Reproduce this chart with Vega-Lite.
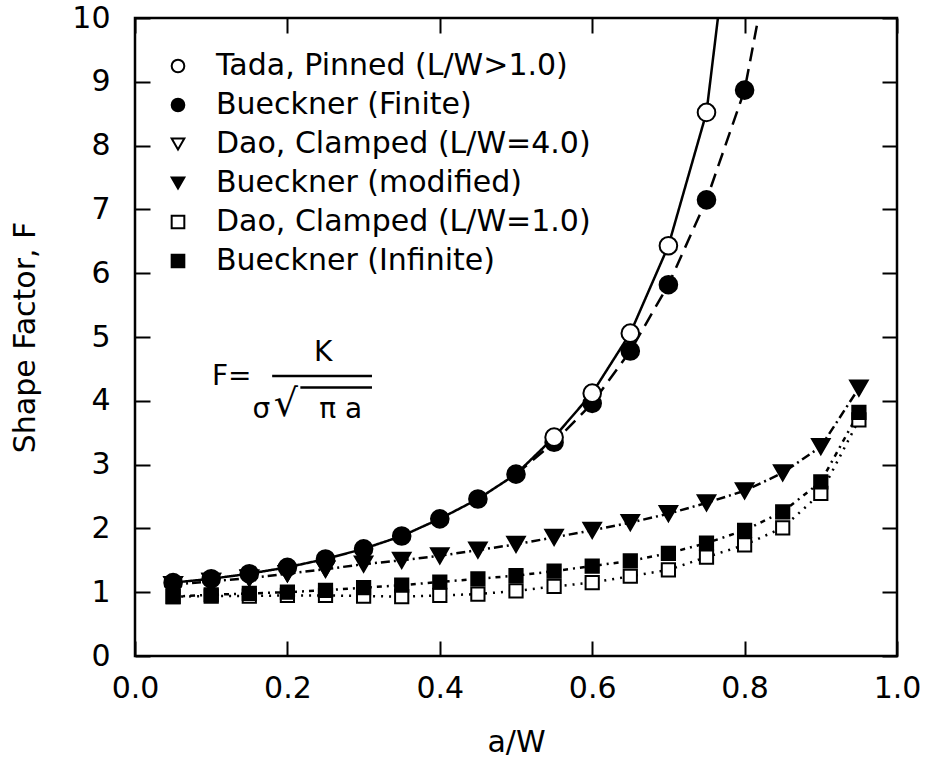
{
  "$schema": "https://vega.github.io/schema/vega-lite/v6.json",
  "width": 762,
  "height": 638,
  "autosize": {"type": "none"},
  "padding": {"left": 135, "top": 18, "right": 28, "bottom": 111},
  "background": "white",
  "config": {
    "view": {"stroke": "black", "strokeWidth": 2.5},
    "font": "DejaVu Sans",
    "axis": {
      "domain": false, "grid": false, "ticks": true, "tickColor": "black", "tickWidth": 2,
      "tickSize": -15, "labelFlush": false, "labelColor": "black", "labelFont": "DejaVu Sans", "labelFontSize": 30,
      "titleFont": "DejaVu Sans", "titleFontSize": 30, "titleFontWeight": "normal", "titleColor": "black"
    },
    "legend": {
      "orient": "none", "legendX": 28, "legendY": 33, "padding": 0,
      "labelFont": "DejaVu Sans", "labelFontSize": 30, "labelColor": "black", "labelLimit": 700,
      "symbolStrokeWidth": 2, "symbolSize": 160,
      "rowPadding": 9, "labelOffset": 23
    }
  },
  "datasets": {
    "squares": [
      {"series": "Dao, Clamped (L/W=1.0)", "x": 0.05, "y": 0.93},
      {"series": "Dao, Clamped (L/W=1.0)", "x": 0.10, "y": 0.94},
      {"series": "Dao, Clamped (L/W=1.0)", "x": 0.15, "y": 0.94},
      {"series": "Dao, Clamped (L/W=1.0)", "x": 0.20, "y": 0.95},
      {"series": "Dao, Clamped (L/W=1.0)", "x": 0.25, "y": 0.95},
      {"series": "Dao, Clamped (L/W=1.0)", "x": 0.30, "y": 0.94},
      {"series": "Dao, Clamped (L/W=1.0)", "x": 0.35, "y": 0.93},
      {"series": "Dao, Clamped (L/W=1.0)", "x": 0.40, "y": 0.95},
      {"series": "Dao, Clamped (L/W=1.0)", "x": 0.45, "y": 0.97},
      {"series": "Dao, Clamped (L/W=1.0)", "x": 0.50, "y": 1.02},
      {"series": "Dao, Clamped (L/W=1.0)", "x": 0.55, "y": 1.09},
      {"series": "Dao, Clamped (L/W=1.0)", "x": 0.60, "y": 1.15},
      {"series": "Dao, Clamped (L/W=1.0)", "x": 0.65, "y": 1.25},
      {"series": "Dao, Clamped (L/W=1.0)", "x": 0.70, "y": 1.35},
      {"series": "Dao, Clamped (L/W=1.0)", "x": 0.75, "y": 1.55},
      {"series": "Dao, Clamped (L/W=1.0)", "x": 0.80, "y": 1.74},
      {"series": "Dao, Clamped (L/W=1.0)", "x": 0.85, "y": 2.01},
      {"series": "Dao, Clamped (L/W=1.0)", "x": 0.90, "y": 2.55},
      {"series": "Dao, Clamped (L/W=1.0)", "x": 0.95, "y": 3.70},
      {"series": "Bueckner (Infinite)", "x": 0.05, "y": 0.93},
      {"series": "Bueckner (Infinite)", "x": 0.10, "y": 0.96},
      {"series": "Bueckner (Infinite)", "x": 0.15, "y": 0.98},
      {"series": "Bueckner (Infinite)", "x": 0.20, "y": 1.00},
      {"series": "Bueckner (Infinite)", "x": 0.25, "y": 1.03},
      {"series": "Bueckner (Infinite)", "x": 0.30, "y": 1.07},
      {"series": "Bueckner (Infinite)", "x": 0.35, "y": 1.11},
      {"series": "Bueckner (Infinite)", "x": 0.40, "y": 1.16},
      {"series": "Bueckner (Infinite)", "x": 0.45, "y": 1.21},
      {"series": "Bueckner (Infinite)", "x": 0.50, "y": 1.26},
      {"series": "Bueckner (Infinite)", "x": 0.55, "y": 1.33},
      {"series": "Bueckner (Infinite)", "x": 0.60, "y": 1.41},
      {"series": "Bueckner (Infinite)", "x": 0.65, "y": 1.49},
      {"series": "Bueckner (Infinite)", "x": 0.70, "y": 1.61},
      {"series": "Bueckner (Infinite)", "x": 0.75, "y": 1.77},
      {"series": "Bueckner (Infinite)", "x": 0.80, "y": 1.97},
      {"series": "Bueckner (Infinite)", "x": 0.85, "y": 2.26},
      {"series": "Bueckner (Infinite)", "x": 0.90, "y": 2.73},
      {"series": "Bueckner (Infinite)", "x": 0.95, "y": 3.82}
    ],
    "pts": [
      {"series": "Dao, Clamped (L/W=4.0)", "x": 0.05, "y": 1.12},
      {"series": "Dao, Clamped (L/W=4.0)", "x": 0.10, "y": 1.17},
      {"series": "Dao, Clamped (L/W=4.0)", "x": 0.15, "y": 1.22},
      {"series": "Dao, Clamped (L/W=4.0)", "x": 0.20, "y": 1.29},
      {"series": "Dao, Clamped (L/W=4.0)", "x": 0.25, "y": 1.36},
      {"series": "Bueckner (modified)", "x": 0.05, "y": 1.12},
      {"series": "Bueckner (modified)", "x": 0.10, "y": 1.17},
      {"series": "Bueckner (modified)", "x": 0.15, "y": 1.22},
      {"series": "Bueckner (modified)", "x": 0.20, "y": 1.29},
      {"series": "Bueckner (modified)", "x": 0.25, "y": 1.36},
      {"series": "Bueckner (modified)", "x": 0.30, "y": 1.44},
      {"series": "Bueckner (modified)", "x": 0.35, "y": 1.50},
      {"series": "Bueckner (modified)", "x": 0.40, "y": 1.57},
      {"series": "Bueckner (modified)", "x": 0.45, "y": 1.66},
      {"series": "Bueckner (modified)", "x": 0.50, "y": 1.75},
      {"series": "Bueckner (modified)", "x": 0.55, "y": 1.86},
      {"series": "Bueckner (modified)", "x": 0.60, "y": 1.97},
      {"series": "Bueckner (modified)", "x": 0.65, "y": 2.09},
      {"series": "Bueckner (modified)", "x": 0.70, "y": 2.23},
      {"series": "Bueckner (modified)", "x": 0.75, "y": 2.40},
      {"series": "Bueckner (modified)", "x": 0.80, "y": 2.59},
      {"series": "Bueckner (modified)", "x": 0.85, "y": 2.87},
      {"series": "Bueckner (modified)", "x": 0.90, "y": 3.28},
      {"series": "Bueckner (modified)", "x": 0.95, "y": 4.20},
      {"series": "Bueckner (Finite)", "x": 0.05, "y": 1.15},
      {"series": "Bueckner (Finite)", "x": 0.10, "y": 1.21},
      {"series": "Bueckner (Finite)", "x": 0.15, "y": 1.29},
      {"series": "Bueckner (Finite)", "x": 0.20, "y": 1.39},
      {"series": "Bueckner (Finite)", "x": 0.25, "y": 1.52},
      {"series": "Bueckner (Finite)", "x": 0.30, "y": 1.68},
      {"series": "Bueckner (Finite)", "x": 0.35, "y": 1.88},
      {"series": "Bueckner (Finite)", "x": 0.40, "y": 2.15},
      {"series": "Bueckner (Finite)", "x": 0.45, "y": 2.46},
      {"series": "Bueckner (Finite)", "x": 0.50, "y": 2.85},
      {"series": "Bueckner (Finite)", "x": 0.55, "y": 3.35},
      {"series": "Bueckner (Finite)", "x": 0.60, "y": 3.96},
      {"series": "Bueckner (Finite)", "x": 0.65, "y": 4.78},
      {"series": "Bueckner (Finite)", "x": 0.70, "y": 5.82},
      {"series": "Bueckner (Finite)", "x": 0.75, "y": 7.15},
      {"series": "Bueckner (Finite)", "x": 0.80, "y": 8.87},
      {"series": "Tada, Pinned (L/W>1.0)", "x": 0.55, "y": 3.43},
      {"series": "Tada, Pinned (L/W>1.0)", "x": 0.60, "y": 4.12},
      {"series": "Tada, Pinned (L/W>1.0)", "x": 0.65, "y": 5.06},
      {"series": "Tada, Pinned (L/W>1.0)", "x": 0.70, "y": 6.43},
      {"series": "Tada, Pinned (L/W>1.0)", "x": 0.75, "y": 8.52}
    ],
    "curves": [
      {"curve": "tada", "x": 0.05, "y": 1.15},
      {"curve": "tada", "x": 0.10, "y": 1.21},
      {"curve": "tada", "x": 0.15, "y": 1.29},
      {"curve": "tada", "x": 0.20, "y": 1.39},
      {"curve": "tada", "x": 0.25, "y": 1.52},
      {"curve": "tada", "x": 0.30, "y": 1.68},
      {"curve": "tada", "x": 0.35, "y": 1.88},
      {"curve": "tada", "x": 0.40, "y": 2.15},
      {"curve": "tada", "x": 0.45, "y": 2.46},
      {"curve": "tada", "x": 0.50, "y": 2.85},
      {"curve": "tada", "x": 0.55, "y": 3.43},
      {"curve": "tada", "x": 0.60, "y": 4.12},
      {"curve": "tada", "x": 0.65, "y": 5.06},
      {"curve": "tada", "x": 0.70, "y": 6.43},
      {"curve": "tada", "x": 0.75, "y": 8.52},
      {"curve": "tada", "x": 0.765, "y": 10.0},
      {"curve": "finite", "x": 0.50, "y": 2.85},
      {"curve": "finite", "x": 0.55, "y": 3.35},
      {"curve": "finite", "x": 0.60, "y": 3.96},
      {"curve": "finite", "x": 0.65, "y": 4.78},
      {"curve": "finite", "x": 0.70, "y": 5.82},
      {"curve": "finite", "x": 0.75, "y": 7.15},
      {"curve": "finite", "x": 0.80, "y": 8.87},
      {"curve": "finite", "x": 0.818, "y": 10.0},
      {"curve": "modified", "x": 0.05, "y": 1.12},
      {"curve": "modified", "x": 0.10, "y": 1.17},
      {"curve": "modified", "x": 0.15, "y": 1.22},
      {"curve": "modified", "x": 0.20, "y": 1.29},
      {"curve": "modified", "x": 0.25, "y": 1.36},
      {"curve": "modified", "x": 0.30, "y": 1.44},
      {"curve": "modified", "x": 0.35, "y": 1.50},
      {"curve": "modified", "x": 0.40, "y": 1.57},
      {"curve": "modified", "x": 0.45, "y": 1.66},
      {"curve": "modified", "x": 0.50, "y": 1.75},
      {"curve": "modified", "x": 0.55, "y": 1.86},
      {"curve": "modified", "x": 0.60, "y": 1.97},
      {"curve": "modified", "x": 0.65, "y": 2.09},
      {"curve": "modified", "x": 0.70, "y": 2.23},
      {"curve": "modified", "x": 0.75, "y": 2.40},
      {"curve": "modified", "x": 0.80, "y": 2.59},
      {"curve": "modified", "x": 0.85, "y": 2.87},
      {"curve": "modified", "x": 0.90, "y": 3.28},
      {"curve": "modified", "x": 0.95, "y": 4.20},
      {"curve": "infinite", "x": 0.05, "y": 0.93},
      {"curve": "infinite", "x": 0.10, "y": 0.96},
      {"curve": "infinite", "x": 0.15, "y": 0.98},
      {"curve": "infinite", "x": 0.20, "y": 1.00},
      {"curve": "infinite", "x": 0.25, "y": 1.03},
      {"curve": "infinite", "x": 0.30, "y": 1.07},
      {"curve": "infinite", "x": 0.35, "y": 1.11},
      {"curve": "infinite", "x": 0.40, "y": 1.16},
      {"curve": "infinite", "x": 0.45, "y": 1.21},
      {"curve": "infinite", "x": 0.50, "y": 1.26},
      {"curve": "infinite", "x": 0.55, "y": 1.33},
      {"curve": "infinite", "x": 0.60, "y": 1.41},
      {"curve": "infinite", "x": 0.65, "y": 1.49},
      {"curve": "infinite", "x": 0.70, "y": 1.61},
      {"curve": "infinite", "x": 0.75, "y": 1.77},
      {"curve": "infinite", "x": 0.80, "y": 1.97},
      {"curve": "infinite", "x": 0.85, "y": 2.26},
      {"curve": "infinite", "x": 0.90, "y": 2.73},
      {"curve": "infinite", "x": 0.95, "y": 3.82},
      {"curve": "dao1", "x": 0.05, "y": 0.93},
      {"curve": "dao1", "x": 0.10, "y": 0.94},
      {"curve": "dao1", "x": 0.15, "y": 0.94},
      {"curve": "dao1", "x": 0.20, "y": 0.95},
      {"curve": "dao1", "x": 0.25, "y": 0.95},
      {"curve": "dao1", "x": 0.30, "y": 0.94},
      {"curve": "dao1", "x": 0.35, "y": 0.93},
      {"curve": "dao1", "x": 0.40, "y": 0.95},
      {"curve": "dao1", "x": 0.45, "y": 0.97},
      {"curve": "dao1", "x": 0.50, "y": 1.02},
      {"curve": "dao1", "x": 0.55, "y": 1.09},
      {"curve": "dao1", "x": 0.60, "y": 1.15},
      {"curve": "dao1", "x": 0.65, "y": 1.25},
      {"curve": "dao1", "x": 0.70, "y": 1.35},
      {"curve": "dao1", "x": 0.75, "y": 1.55},
      {"curve": "dao1", "x": 0.80, "y": 1.74},
      {"curve": "dao1", "x": 0.85, "y": 2.01},
      {"curve": "dao1", "x": 0.90, "y": 2.55},
      {"curve": "dao1", "x": 0.95, "y": 3.70}
    ],
    "notes": [
      {"t": "F=", "x": 0.127, "y": 4.37},
      {"t": "K", "x": 0.247, "y": 4.75},
      {"t": "σ", "x": 0.166, "y": 3.86},
      {"t": "π a", "x": 0.27, "y": 3.86}
    ],
    "roots": [
      {"t": "√", "x": 0.198, "y": 3.93}
    ],
    "bars": [
      {"x": 0.18, "x2": 0.311, "y": 4.39},
      {"x": 0.217, "x2": 0.311, "y": 4.21}
    ]
  },
  "layer": [
    {
      "data": {"name": "curves"},
      "mark": {"type": "line", "color": "black", "strokeWidth": 2.5, "clip": true},
      "encoding": {
        "x": {"field": "x", "type": "quantitative", "scale": {"domain": [0, 1], "nice": false},
              "axis": {"orient": "bottom", "values": [0, 0.2, 0.4, 0.6, 0.8, 1.0], "format": ".1f", "title": "a/W", "labelPadding": 32, "titlePadding": 24}},
        "y": {"field": "y", "type": "quantitative", "scale": {"domain": [0, 10], "nice": false},
              "axis": {"orient": "left", "values": [0, 1, 2, 3, 4, 5, 6, 7, 8, 9, 10], "format": "d", "title": "Shape Factor, F", "labelPadding": 40, "titlePadding": 31}},
        "detail": {"field": "curve", "type": "nominal"},
        "strokeDash": {"field": "curve", "type": "nominal", "legend": null,
          "scale": {"domain": ["tada", "finite", "modified", "infinite", "dao1"],
                    "range": [[1, 0], [14, 8], [9, 4, 2, 4], [5, 5, 2, 5], [2, 6]]}}
      }
    },
    {
      "data": {"name": "squares"},
      "mark": {"type": "point", "filled": true, "strokeWidth": 2, "opacity": 1, "size": 175},
      "encoding": {
        "x": {"field": "x", "type": "quantitative", "axis": {"orient": "top", "values": [0, 0.2, 0.4, 0.6, 0.8, 1.0], "labels": false, "title": null}},
        "y": {"field": "y", "type": "quantitative", "axis": {"orient": "right", "values": [0, 1, 2, 3, 4, 5, 6, 7, 8, 9, 10], "labels": false, "title": null}},
        "shape": {"field": "series", "type": "nominal", "title": null,
          "scale": {"domain": ["Tada, Pinned (L/W>1.0)", "Bueckner (Finite)", "Dao, Clamped (L/W=4.0)", "Bueckner (modified)", "Dao, Clamped (L/W=1.0)", "Bueckner (Infinite)"],
                    "range": ["circle", "circle", "triangle-down", "triangle-down", "square", "square"]}},
        "fill": {"field": "series", "type": "nominal", "title": null,
          "scale": {"domain": ["Tada, Pinned (L/W>1.0)", "Bueckner (Finite)", "Dao, Clamped (L/W=4.0)", "Bueckner (modified)", "Dao, Clamped (L/W=1.0)", "Bueckner (Infinite)"],
                    "range": ["white", "black", "white", "black", "white", "black"]}},
        "stroke": {"field": "series", "type": "nominal", "title": null,
          "scale": {"domain": ["Tada, Pinned (L/W>1.0)", "Bueckner (Finite)", "Dao, Clamped (L/W=4.0)", "Bueckner (modified)", "Dao, Clamped (L/W=1.0)", "Bueckner (Infinite)"],
                    "range": ["black", "black", "black", "black", "black", "black"]}}
      }
    },
    {
      "data": {"name": "pts"},
      "mark": {"type": "point", "filled": true, "strokeWidth": 2, "opacity": 1, "size": 310},
      "encoding": {
        "x": {"field": "x", "type": "quantitative", "axis": null},
        "y": {"field": "y", "type": "quantitative", "axis": null},
        "shape": {"field": "series", "type": "nominal", "title": null},
        "fill": {"field": "series", "type": "nominal", "title": null},
        "stroke": {"field": "series", "type": "nominal", "title": null}
      }
    },
    {
      "data": {"name": "notes"},
      "mark": {"type": "text", "fontSize": 28, "font": "DejaVu Sans", "color": "black", "baseline": "middle", "align": "center"},
      "encoding": {
        "x": {"field": "x", "type": "quantitative", "axis": null},
        "y": {"field": "y", "type": "quantitative", "axis": null},
        "text": {"field": "t"}
      }
    },
    {
      "data": {"name": "roots"},
      "mark": {"type": "text", "fontSize": 38, "font": "DejaVu Sans", "color": "black", "baseline": "middle", "align": "center"},
      "encoding": {
        "x": {"field": "x", "type": "quantitative", "axis": null},
        "y": {"field": "y", "type": "quantitative", "axis": null},
        "text": {"field": "t"}
      }
    },
    {
      "data": {"name": "bars"},
      "mark": {"type": "rule", "color": "black", "strokeWidth": 2.5},
      "encoding": {
        "x": {"field": "x", "type": "quantitative", "axis": null},
        "x2": {"field": "x2"},
        "y": {"field": "y", "type": "quantitative", "axis": null}
      }
    }
  ],
  "resolve": {"axis": {"x": "independent", "y": "independent"}}
}
